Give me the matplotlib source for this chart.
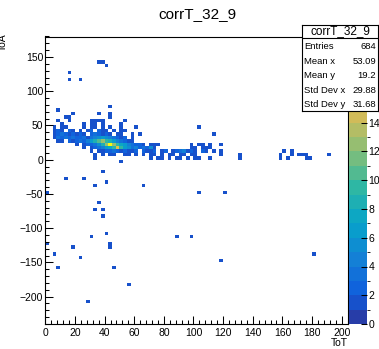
import numpy as np
import matplotlib.pyplot as plt
from matplotlib.colors import ListedColormap, BoundaryNorm
from matplotlib.ticker import MultipleLocator

plt.rcParams['font.family'] = ['Liberation Sans', 'DejaVu Sans']

# histogram binning
x_edges = np.arange(0, 206, 2.5)
y_edges = np.arange(-240, 181, 5)

# dense band: (y centre, first x centre, counts in consecutive 2.5 wide bins)
band_rows = [
    (52.5, 11.25, [1, 0, 0, 0, 0, 0, 1, 0, 1, 1, 0, 1, 0, 0, 0, 0, 1]),
    (47.5, 6.25, [1, 0, 1, 1, 0, 0, 0, 0, 1, 0, 1, 1, 0, 1, 0, 1, 0, 0, 1, 0, 0, 0, 1]),
    (42.5, 6.25, [1, 2, 1, 0, 2, 1, 0, 1, 0, 1, 2, 0, 2, 1, 1, 0, 1, 0, 1, 1]),
    (37.5, 6.25, [1, 2, 3, 2, 1, 2, 1, 2, 1, 0, 2, 3, 2, 1, 2, 1, 0, 1, 1, 0, 0, 1, 0, 1]),
    (32.5, 6.25, [1, 3, 2, 3, 2, 3, 2, 2, 3, 1, 3, 4, 5, 6, 5, 4, 3, 2, 1, 2, 0, 1]),
    (27.5, 8.75, [1, 1, 0, 2, 1, 2, 3, 2, 4, 6, 8, 10, 12, 9, 8, 6, 4, 3, 2, 1, 1]),
    (22.5, 18.75, [0, 1, 0, 1, 2, 2, 3, 5, 8, 12, 20, 12, 9, 7, 6, 4, 3, 2, 2, 1, 0, 1, 1, 1,
                   0, 0, 0, 0, 0, 0, 0, 0, 1, 0, 1, 1, 0, 1, 0, 0, 1]),
    (17.5, 26.25, [1, 0, 1, 2, 3, 4, 6, 7, 9, 15, 9, 6, 5, 3, 4, 2, 3, 2, 5, 1,
                   0, 0, 0, 0, 0, 0, 0, 0, 0, 1, 1, 0, 1, 1, 1]),
    (12.5, 28.75, [0, 1, 0, 1, 1, 2, 2, 3, 2, 1, 2, 1, 1, 2, 0, 2, 1, 1, 2, 0, 1, 2, 0, 1, 2,
                   3, 4, 1, 2, 1, 0, 2, 1, 0, 1, 0, 1]),
    (7.5, 33.75, [1, 0, 1, 0, 1, 1, 0, 0, 1, 1, 0, 1, 0, 1, 0, 1, 1, 0, 1, 0, 1, 1, 0, 1, 1,
                  0, 1, 1, 0, 0, 0, 0, 0, 0, 1]),
    (2.5, 71.25, [1, 0, 1, 1, 0, 1, 0, 1, 1, 0, 1, 0, 1, 1, 0, 0, 1]),
]

# single entries
iso_x = [36.25, 38.75, 41.25, 16.25, 16.25, 23.75, 43.75, 8.75, 18.75, 36.25, 43.75,
         13.75, 16.25, 43.75, 8.75, 16.25, 31.25, 33.75, 36.25, 38.75, 53.75,
         103.75, 113.75, 161.25, 166.25,
         131.25, 158.75, 166.25, 171.25, 173.75, 176.25, 191.25,
         33.75, 131.25, 158.75, 163.75, 176.25, 178.75, 51.25,
         38.75, 13.75, 26.25, 41.25, 33.75, 66.25, 1.25, 103.75, 121.25,
         36.25, 33.75, 38.75, 38.75, 41.25, 31.25, 88.75, 98.75,
         43.75, 43.75, 1.25, 18.75, 6.25, 23.75, 118.75,
         8.75, 46.25, 56.25, 28.75, 181.25]
iso_y = [142.5, 142.5, 137.5, 127.5, 117.5, 117.5, 77.5, 72.5, 67.5, 67.5, 67.5,
         62.5, 62.5, 62.5, 57.5, 57.5, 57.5, 57.5, 57.5, 57.5, 57.5,
         47.5, 37.5, 12.5, 12.5,
         7.5, 7.5, 7.5, 7.5, 7.5, 7.5, 7.5,
         2.5, 2.5, 2.5, 2.5, 2.5, 2.5, -2.5,
         -17.5, -27.5, -27.5, -32.5, -37.5, -37.5, -47.5, -47.5, -47.5,
         -62.5, -72.5, -72.5, -82.5, -107.5, -112.5, -112.5, -112.5,
         -122.5, -127.5, -122.5, -127.5, -137.5, -142.5, -147.5,
         -157.5, -157.5, -182.5, -207.5, -137.5]

stats_labels = ['Entries', 'Mean x', 'Mean y', 'Std Dev x', 'Std Dev y']
stats_values = ['684', '53.09', '19.2', '29.88', '31.68']

xs, ys, ns = [], [], []
for yc, x0, counts in band_rows:
    for i, n in enumerate(counts):
        if n:
            xs.append(x0 + 2.5 * i)
            ys.append(yc)
            ns.append(n)
xs += iso_x
ys += iso_y
ns += [1] * len(iso_x)

H, xe, ye = np.histogram2d(xs, ys, bins=[x_edges, y_edges], weights=ns)
H = np.ma.masked_equal(H.T, 0)

# ROOT kBird palette, 20 contour levels
stops = [0.0, 0.125, 0.25, 0.375, 0.5, 0.625, 0.75, 0.875, 1.0]
red = [0.2082, 0.0592, 0.0780, 0.0232, 0.1802, 0.5301, 0.8186, 0.9956, 0.9764]
green = [0.1664, 0.3599, 0.5041, 0.6419, 0.7178, 0.7492, 0.7328, 0.7862, 0.9832]
blue = [0.5293, 0.8684, 0.8385, 0.7914, 0.6425, 0.4662, 0.3499, 0.1968, 0.0539]
nlev = 20
fr = [int((i + 0.99) * 255 / nlev) / 254. for i in range(nlev)]
cols = [(np.interp(f, stops, red), np.interp(f, stops, green), np.interp(f, stops, blue)) for f in fr]
cmap = ListedColormap(cols)
norm = BoundaryNorm(np.arange(0, nlev + 1), nlev)

W, Hpx = 379, 349
fig = plt.figure(figsize=(W / 100, Hpx / 100), dpi=100)
ax = fig.add_axes([45.3 / W, 25 / Hpx, (347.6 - 45.3) / W, (324 - 36.5) / Hpx])
mesh = ax.pcolormesh(xe, ye, H, cmap=cmap, norm=norm, antialiased=False, edgecolors='none')
ax.set_xlim(0, 204)
ax.set_ylim(-240, 180)
ax.xaxis.set_major_locator(MultipleLocator(20))
ax.xaxis.set_minor_locator(MultipleLocator(4))
ax.yaxis.set_major_locator(MultipleLocator(50))
ax.yaxis.set_minor_locator(MultipleLocator(10))
ax.tick_params(which='both', direction='in', top=False, right=False, width=0.75, labelsize=7.5)
ax.tick_params(which='major', length=6)
ax.tick_params(which='minor', length=3)
ax.tick_params(axis='x', pad=3)
ax.tick_params(axis='y', pad=1.5)
for s in ax.spines.values():
    s.set_linewidth(0.8)

fig.text(348 / W, 1 - 343 / Hpx, 'ToT', ha='right', va='center', fontsize=7.5)
fig.text(3 / W, 1 - 33 / Hpx, 'ToA', ha='center', va='top', rotation=90, fontsize=7.5)
fig.text(197.5 / W, 1 - 14 / Hpx, 'corrT_32_9', ha='center', va='center', fontsize=11)

cax = fig.add_axes([349 / W, 25 / Hpx, 18 / W, (324 - 36.5) / Hpx])
cb = fig.colorbar(mesh, cax=cax, ticks=np.arange(0, 15, 2))
cb.outline.set_visible(False)
cax.tick_params(direction='in', length=4, width=0.75, labelsize=7.5, pad=1)

# stats box
sax = fig.add_axes([302 / W, 1 - 111 / Hpx, 76 / W, (111 - 24.5) / Hpx])
sax.set_xlim(0, 76)
sax.set_ylim(111, 24.5)
sax.set_xticks([])
sax.set_yticks([])
sax.set_facecolor('white')
for s in sax.spines.values():
    s.set_linewidth(0.8)
sax.axhline(38, color='black', lw=0.8)
sax.text(38, 31.5, 'corrT_32_9', ha='center', va='center', fontsize=8.5)
for i, (lab, val) in enumerate(zip(stats_labels, stats_values)):
    yy = 46.5 + 14.6 * i
    sax.text(2.5, yy, lab, ha='left', va='center', fontsize=6.8)
    sax.text(74, yy, val, ha='right', va='center', fontsize=6.8)

fig.savefig('out.png', dpi=100)
